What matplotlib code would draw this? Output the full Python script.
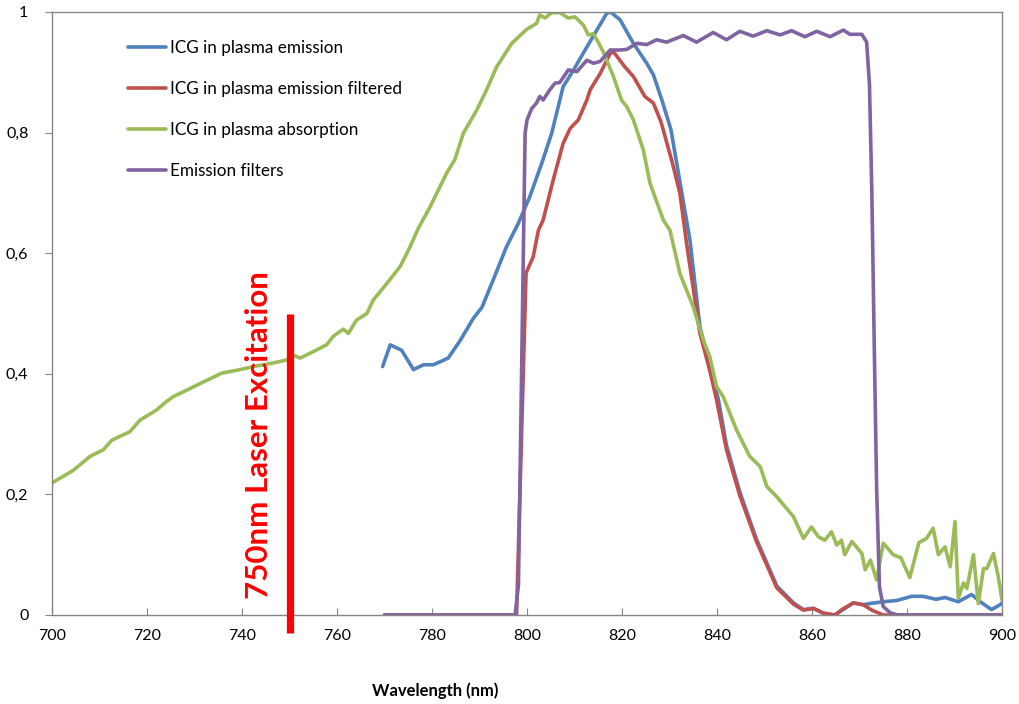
import matplotlib
matplotlib.use("Agg")
import matplotlib.pyplot as plt
from matplotlib.ticker import FuncFormatter, MultipleLocator

plt.rcParams['font.family'] = ['Lato', 'DejaVu Sans']

# ---------------- data ----------------
abs_wl = [700, 704.5, 708, 710.8, 712.6, 716.4, 718.5, 722, 724.1, 725.5, 728.4, 731.2, 733.6, 735.7,
          739.6, 743.1, 746.6, 749.4, 750.8, 752.2, 754.3, 757.8, 759.2, 761.3, 762.4, 764.1, 766.3,
          767.6, 770, 773.3, 775.4, 777.1, 779.6, 783.1, 784.8, 786.6, 789.4, 791.5, 793.6, 796.8,
          799.9, 802.0, 802.7, 803.8, 805.2, 806.9, 808.7, 810.1, 811.9, 812.9, 814.0, 816, 818.2,
          819.9, 821.0, 822.4, 824.5, 825.9, 828.7, 830.1, 832.2, 835.0, 837.1, 838.5, 839.9, 841.3,
          844.1, 846.9, 849.1, 850.5, 852.6, 856.1, 858.2, 859.9, 861.3, 862.7, 864.1, 865.2, 866.2,
          866.9, 868.4, 870.5, 871.2, 872.3, 873.6, 875.0, 877.1, 878.7, 880.6, 882.5, 884.1, 885.5,
          886.6, 888.0, 889.1, 890.1, 890.8, 891.9, 892.6, 894.0, 895.0, 896.1, 896.8, 898.2, 899.2, 900]
abs_val = [0.219, 0.240, 0.263, 0.274, 0.290, 0.304, 0.323, 0.340, 0.354, 0.362, 0.373, 0.384, 0.393, 0.401,
           0.407, 0.413, 0.418, 0.423, 0.431, 0.426, 0.434, 0.448, 0.462, 0.474, 0.467, 0.489, 0.500,
           0.522, 0.545, 0.578, 0.611, 0.641, 0.677, 0.733, 0.755, 0.799, 0.837, 0.871, 0.909, 0.948,
           0.971, 0.981, 0.995, 0.990, 0.999, 0.999, 0.990, 0.992, 0.978, 0.962, 0.964, 0.935, 0.893,
           0.854, 0.843, 0.821, 0.771, 0.716, 0.655, 0.638, 0.566, 0.511, 0.456, 0.428, 0.379, 0.362,
           0.307, 0.263, 0.246, 0.213, 0.196, 0.163, 0.127, 0.146, 0.130, 0.124, 0.138, 0.116, 0.124,
           0.100, 0.122, 0.102, 0.075, 0.091, 0.058, 0.119, 0.100, 0.095, 0.062, 0.120, 0.127, 0.144,
           0.100, 0.113, 0.080, 0.155, 0.028, 0.053, 0.044, 0.100, 0.019, 0.077, 0.077, 0.102, 0.064, 0.025]

em_wl = [769.6, 771.2, 773.6, 776.1, 778.2, 780.3, 783.4, 786.0, 788.7, 790.5, 792.9, 795.7, 798.2,
         800.6, 803.1, 805.2, 807.6, 809.8, 812.6, 814.7, 816.8, 817.6, 819.6, 822.4, 825.2, 826.6,
         828.4, 830.3, 832.2, 834.3, 836.4, 838.5, 840.3, 842.0, 844.8, 848.3, 852.6, 856.1, 858.2,
         860.3, 862.4, 864.8, 868.7, 870.8, 872.2, 875.0, 877.8, 881.0, 883.4, 886.1, 888.0, 890.8,
         893.6, 895.4, 897.8, 899.6, 900]
em_val = [0.412, 0.448, 0.439, 0.407, 0.415, 0.415, 0.426, 0.456, 0.492, 0.510, 0.556, 0.611, 0.650,
          0.694, 0.749, 0.799, 0.876, 0.904, 0.942, 0.970, 0.998, 1.0, 0.987, 0.948, 0.915, 0.896,
          0.854, 0.805, 0.718, 0.622, 0.478, 0.412, 0.357, 0.281, 0.204, 0.126, 0.048, 0.020, 0.009,
          0.011, 0.003, 0.0, 0.020, 0.017, 0.019, 0.022, 0.024, 0.031, 0.031, 0.026, 0.029, 0.022,
          0.034, 0.022, 0.009, 0.017, 0.020]

filt_em_wl = [770, 797.8, 799.8, 801.3, 802.4, 803.4, 805.5, 807.6, 809.1, 810.8, 812.6, 813.3, 815.4,
              817.5, 818.2, 820.6, 822.4, 824.8, 826.6, 828.2, 830.6, 832.2, 833.6, 836.4, 838.5, 839.9,
              842.0, 844.8, 848.3, 852.6, 856.1, 858.2, 860.3, 862.4, 864.8, 866.5, 868.7, 870.8, 872.6,
              875.0, 900]
filt_em_val = [0.0, 0.0, 0.567, 0.594, 0.638, 0.655, 0.721, 0.782, 0.807, 0.821, 0.854, 0.871, 0.898,
               0.931, 0.934, 0.909, 0.893, 0.860, 0.849, 0.818, 0.750, 0.699, 0.616, 0.467, 0.405, 0.357,
               0.274, 0.198, 0.122, 0.045, 0.018, 0.008, 0.011, 0.003, 0.0, 0.010, 0.020, 0.017, 0.008,
               0.0, 0.0]

filter_wl = [770, 797.5, 798.2, 799.6, 800.0, 801.0, 802.0, 802.7, 803.4, 804.8, 805.9, 806.9, 808.7,
             810.5, 812.6, 814.0, 815.4, 817.5, 819.6, 821.0, 823.1, 825.2, 827.3, 829.4, 832.9, 835.7,
             839.2, 842.0, 844.8, 847.6, 850.5, 853.3, 855.7, 858.5, 861.0, 863.8, 866.6, 868.0, 870.5,
             871.5, 872.1, 872.6, 873.1, 873.6, 874.2, 875.0, 876.4, 878, 900]
filter_val = [0.0, 0.0, 0.05, 0.799, 0.821, 0.840, 0.849, 0.860, 0.854, 0.871, 0.882, 0.883, 0.904,
              0.901, 0.920, 0.915, 0.918, 0.937, 0.937, 0.938, 0.948, 0.946, 0.954, 0.950, 0.961, 0.950,
              0.966, 0.954, 0.968, 0.960, 0.969, 0.962, 0.969, 0.959, 0.968, 0.959, 0.970, 0.963, 0.963,
              0.950, 0.880, 0.700, 0.450, 0.213, 0.047, 0.014, 0.004, 0.0, 0.0]

series_labels = ['ICG in plasma emission', 'ICG in plasma emission filtered',
                 'ICG in plasma absorption', 'Emission filters']
laser_wl = 750
laser_range = [-0.03, 0.5]
laser_label = '750nm Laser Excitation'
x_ticks = [700, 720, 740, 760, 780, 800, 820, 840, 860, 880, 900]

# ---------------- plot ----------------
fig = plt.figure(figsize=(10.19, 7.04), dpi=100)
ax = fig.add_axes([52/1019, 1-615/704, 950/1019, 603/704])

colors = ['#4F81BD', '#C0504D', '#9BBB59', '#8064A2']
lw = 2.6
kw = dict(lw=lw, solid_joinstyle='round', solid_capstyle='round')
ax.plot(em_wl, em_val, color=colors[0], label=series_labels[0], **kw)
ax.plot(filt_em_wl, filt_em_val, color=colors[1], label=series_labels[1], **kw)
ax.plot(abs_wl, abs_val, color=colors[2], label=series_labels[2], **kw)
ax.plot(filter_wl, filter_val, color=colors[3], label=series_labels[3], **kw)

ax.plot([laser_wl, laser_wl], laser_range, color='#FF0000', lw=5.2, clip_on=False,
        solid_capstyle='butt', zorder=5)
ax.text(743.6, 0.2985, laser_label, rotation=90, color='#FF0000', fontsize=22.5,
        fontweight='bold', ha='center', va='center', zorder=6)

ax.set_xlim(700, 900)
ax.set_ylim(0, 1)
ax.set_xticks(x_ticks)
ax.yaxis.set_major_locator(MultipleLocator(0.2))
ax.yaxis.set_major_formatter(FuncFormatter(
    lambda v, p: ('%g' % round(v, 1)).replace('.', ',')))

for s in ax.spines.values():
    s.set_color('#868686')
    s.set_linewidth(1.0)

ax.tick_params(axis='x', direction='in', length=5, width=0.8, color='#868686',
               labelsize=11.5, pad=10)
ax.tick_params(axis='y', direction='out', length=5, width=0.8, color='#868686',
               labelsize=11.5, pad=12)

ax.set_xlabel('Wavelength (nm)', fontsize=12, fontweight='bold')
ax.xaxis.set_label_coords((435-52)/950, -(682-615)/603)

leg = ax.legend(loc='upper left', bbox_to_anchor=((128-52)/950, 1-(40-12)/603),
                frameon=False, fontsize=12.3, handlelength=2.25, handletextpad=0.2,
                labelspacing=1.47, borderpad=0, borderaxespad=0)

fig.savefig('out.png', dpi=100)
